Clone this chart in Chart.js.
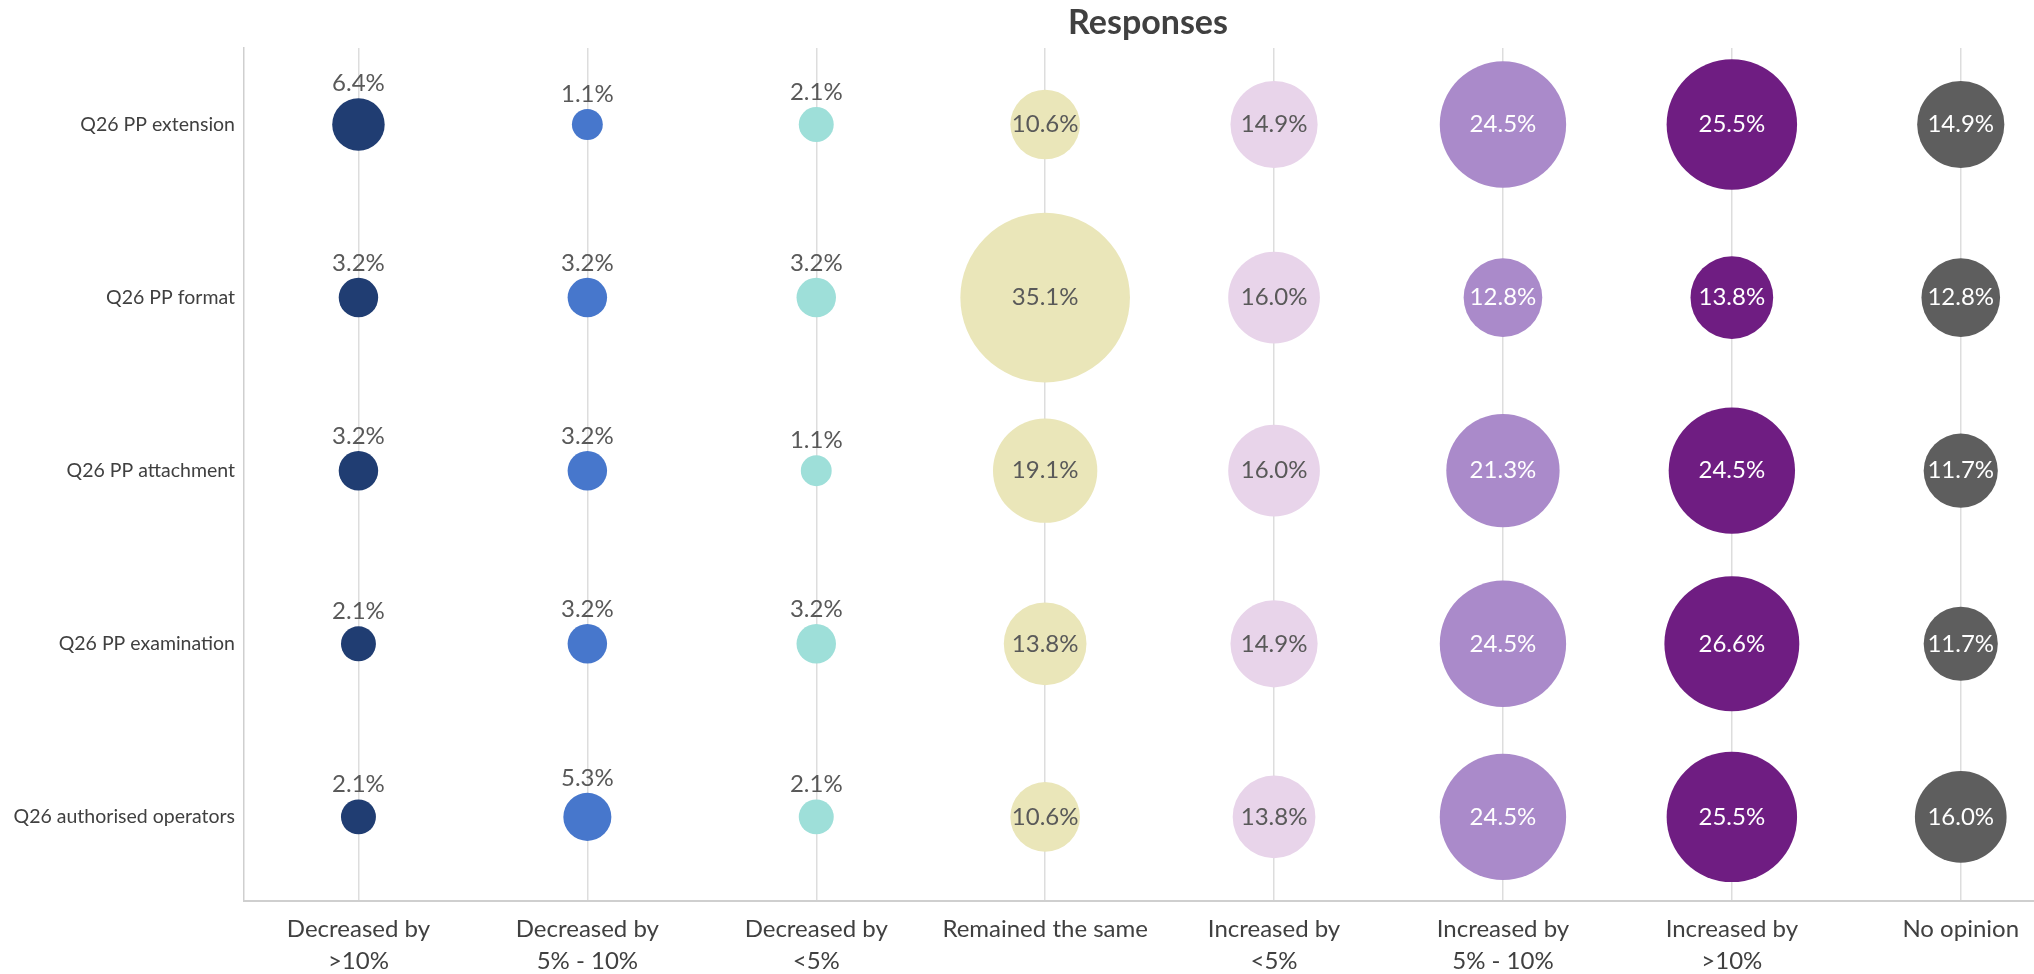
<!DOCTYPE html>
<html>
<head>
<meta charset="utf-8">
<script src="https://cdn.jsdelivr.net/npm/chart.js@4"></script>
<style>
  html, body { margin: 0; padding: 0; background: #fff; }
  #wrap { width: 2034px; height: 974px; }
</style>
</head>
<body>
<div id="wrap"><canvas id="bubbleChart" width="2034" height="974"></canvas></div>
<script>
// Perguntas (eixo y) e respostas (eixo x)
const questions = ['Q26 PP extension', 'Q26 PP format', 'Q26 PP attachment', 'Q26 PP examination', 'Q26 authorised operators'];
const responses = [
  ['Decreased by', '>10%'],
  ['Decreased by', '5% - 10%'],
  ['Decreased by', '<5%'],
  ['Remained the same'],
  ['Increased by', '<5%'],
  ['Increased by', '5% - 10%'],
  ['Increased by', '>10%'],
  ['No opinion']
];

// Percentagens por resposta, na ordem das perguntas
const decreasedOver10 = [6.4, 3.2, 3.2, 2.1, 2.1];
const decreased5to10 = [1.1, 3.2, 3.2, 3.2, 5.3];
const decreasedUnder5 = [2.1, 3.2, 1.1, 3.2, 2.1];
const remainedSame = [10.6, 35.1, 19.1, 13.8, 10.6];
const increasedUnder5 = [14.9, 16.0, 16.0, 14.9, 13.8];
const increased5to10 = [24.5, 12.8, 21.3, 24.5, 24.5];
const increasedOver10 = [25.5, 13.8, 24.5, 26.6, 25.5];
const noOpinion = [14.9, 12.8, 11.7, 11.7, 16.0];

const seriesValues = [decreasedOver10, decreased5to10, decreasedUnder5, remainedSame,
  increasedUnder5, increased5to10, increasedOver10, noOpinion];
const colors = ['#203D72', '#4777CC', '#9EDFD9', '#EAE6B9', '#E8D4EA', '#AA8ACA', '#6F1D82', '#5E5E5E'];
const labelColors = ['#595959', '#595959', '#595959', '#595959', '#595959', '#FFFFFF', '#FFFFFF', '#FFFFFF'];
const labelAbove = [true, true, true, false, false, false, false, false];

const FONT = 'Lato, "Open Sans", sans-serif';

// tamanho da bolha a partir do valor
function bubbleRadius(v) {
  return 13.2 + 2.04 * v;
}

const datasets = seriesValues.map((vals, i) => ({
  label: responses[i].join(' '),
  data: vals.map((v, j) => ({ x: i, y: j, r: bubbleRadius(v), v: v })),
  backgroundColor: colors[i],
  borderColor: colors[i],
  borderWidth: 0,
  hoverRadius: 0,
  clip: false
}));

// Rótulos de dados e título
const labelPlugin = {
  id: 'bubbleLabels',
  afterDatasetsDraw(chart) {
    const ctx = chart.ctx;
    ctx.save();
    ctx.font = '24px ' + FONT;
    ctx.textAlign = 'center';
    chart.data.datasets.forEach((ds, i) => {
      const meta = chart.getDatasetMeta(i);
      meta.data.forEach((el, j) => {
        const text = ds.data[j].v.toFixed(1) + '%';
        ctx.fillStyle = labelColors[i];
        if (labelAbove[i]) {
          ctx.textBaseline = 'alphabetic';
          ctx.fillText(text, el.x, el.y - ds.data[j].r - 7);
        } else {
          ctx.textBaseline = 'middle';
          ctx.fillText(text, el.x, el.y);
        }
      });
    });
    // título
    ctx.font = 'bold 34px ' + FONT;
    ctx.fillStyle = '#404040';
    ctx.textBaseline = 'middle';
    ctx.fillText('Responses', 1148, 23);
    ctx.restore();
  }
};

const ctxBubble = document.getElementById('bubbleChart').getContext('2d');

const bubbleChart = new Chart(ctxBubble, {
  type: 'bubble',
  data: { datasets: datasets },
  options: {
    responsive: false,
    animation: false,
    events: [],
    layout: { autoPadding: false, padding: { top: 48, right: 0, left: 0, bottom: 0 } },
    plugins: {
      legend: { display: false },
      tooltip: { enabled: false }
    },
    scales: {
      x: {
        type: 'linear',
        min: -0.5,
        max: 7.32,
        afterBuildTicks: (scale) => {
          scale.ticks = responses.map((r, i) => ({ value: i }));
        },
        afterFit: (scale) => {
          scale.height = 73;
          scale.paddingLeft = 0;
          scale.paddingRight = 0;
        },
        ticks: {
          autoSkip: false,
          maxRotation: 0,
          padding: 12,
          color: '#404040',
          font: { family: FONT, size: 24, lineHeight: 1.35 },
          callback: (value) => responses[value] || ''
        },
        grid: {
          color: '#DDDDDD',
          lineWidth: 1.5,
          drawTicks: false
        },
        border: { display: true, color: '#CFCFCF', width: 2 }
      },
      y: {
        type: 'linear',
        reverse: true,
        min: -0.442,
        max: 4.486,
        afterBuildTicks: (scale) => {
          scale.ticks = questions.map((q, j) => ({ value: j }));
        },
        afterFit: (scale) => {
          scale.width = 244;
          scale.paddingTop = 0;
          scale.paddingBottom = 0;
        },
        ticks: {
          autoSkip: false,
          padding: 9,
          color: '#404040',
          font: { family: FONT, size: 19.5 },
          callback: (value) => questions[value] || ''
        },
        grid: { display: false, drawTicks: false },
        border: { display: true, color: '#CFCFCF', width: 1.5 }
      }
    }
  },
  plugins: [labelPlugin]
});
</script>
</body>
</html>
